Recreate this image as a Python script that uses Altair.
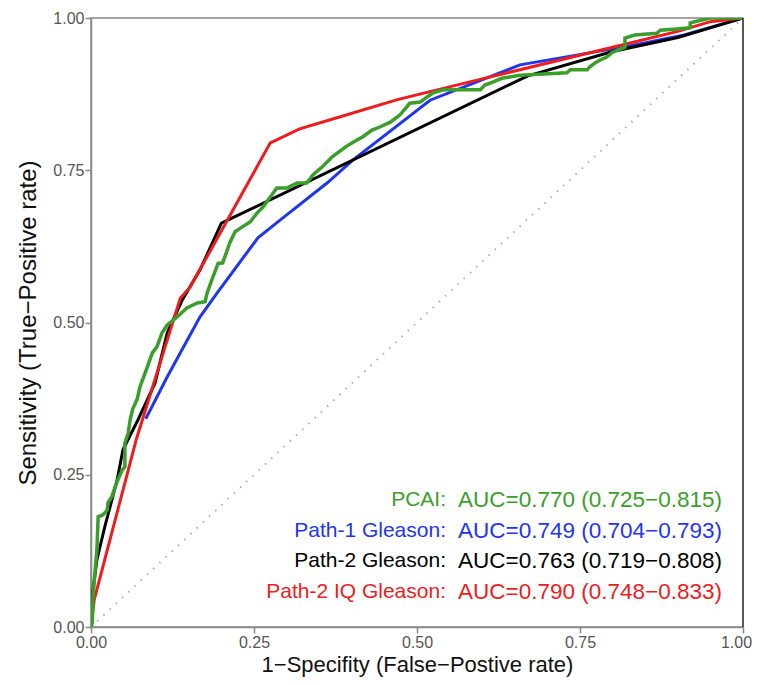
import altair as alt
import pandas as pd

# ---- data ----
pcai_x = [0, 0.002, 0.003, 0.006, 0.009, 0.011, 0.018, 0.025, 0.026, 0.032, 0.037, 0.041, 0.048, 0.052, 0.052,
          0.057, 0.060, 0.064, 0.071, 0.075, 0.083, 0.094, 0.101, 0.109, 0.117, 0.132, 0.147, 0.163, 0.175,
          0.178, 0.187, 0.195, 0.202, 0.213, 0.221, 0.232, 0.244, 0.255, 0.264, 0.275, 0.285, 0.301, 0.316,
          0.331, 0.340, 0.356, 0.370, 0.390, 0.402, 0.417, 0.431, 0.443, 0.459, 0.474, 0.489, 0.505, 0.515,
          0.525, 0.540, 0.597, 0.604, 0.617, 0.630, 0.658, 0.730, 0.735, 0.761, 0.765, 0.773, 0.781, 0.791,
          0.799, 0.807, 0.819, 0.819, 0.834, 0.868, 0.873, 0.899, 0.919, 0.919, 0.934, 0.950, 1.0]
pcai_y = [0, 0.007, 0.049, 0.089, 0.126, 0.181, 0.184, 0.192, 0.204, 0.214, 0.230, 0.241, 0.258, 0.263, 0.302,
          0.318, 0.340, 0.358, 0.375, 0.394, 0.417, 0.450, 0.460, 0.483, 0.496, 0.509, 0.524, 0.532, 0.534,
          0.548, 0.575, 0.597, 0.598, 0.631, 0.649, 0.657, 0.665, 0.680, 0.690, 0.706, 0.721, 0.721, 0.729,
          0.729, 0.742, 0.757, 0.772, 0.788, 0.796, 0.805, 0.816, 0.821, 0.829, 0.841, 0.860, 0.862, 0.870,
          0.877, 0.882, 0.882, 0.890, 0.895, 0.901, 0.906, 0.910, 0.915, 0.915, 0.920, 0.926, 0.931, 0.936,
          0.943, 0.947, 0.952, 0.967, 0.972, 0.975, 0.980, 0.982, 0.984, 0.992, 0.996, 1.0, 1.0]

path1_x = [0.084, 0.117, 0.167, 0.193, 0.256, 0.290, 0.362, 0.402, 0.520, 0.658, 0.820, 0.910, 1.0]
path1_y = [0.342, 0.411, 0.509, 0.548, 0.639, 0.668, 0.729, 0.767, 0.865, 0.923, 0.953, 0.972, 1.0]

path2_x = [0, 0.003, 0.009, 0.021, 0.040, 0.049, 0.072, 0.098, 0.117, 0.140, 0.167, 0.200, 0.670, 0.800, 0.900, 1.0]
path2_y = [0, 0.060, 0.110, 0.164, 0.241, 0.291, 0.340, 0.400, 0.483, 0.537, 0.586, 0.663, 0.905, 0.945, 0.968, 1.0]

iq_x = [0, 0.005, 0.070, 0.137, 0.152, 0.275, 0.320, 0.367, 0.470, 0.600, 0.800, 0.900, 0.950, 1.0]
iq_y = [0, 0.045, 0.310, 0.540, 0.558, 0.795, 0.818, 0.833, 0.866, 0.900, 0.952, 0.978, 0.994, 1.0]

diag_x = [0, 1]
diag_y = [0, 1]

legend_names = ["PCAI:", "Path-1 Gleason:", "Path-2 Gleason:", "Path-2 IQ Gleason:"]
legend_aucs = ["AUC=0.770 (0.725\u22120.815)", "AUC=0.749 (0.704\u22120.793)",
               "AUC=0.763 (0.719\u22120.808)", "AUC=0.790 (0.748\u22120.833)"]
legend_colors = ["#3a9e2a", "#1f35f0", "#000000", "#ee1c1c"]

tick_values = [0, 0.25, 0.5, 0.75, 1.0]

FONT = "Liberation Sans"
W, H = 652, 609


def curve(xs, ys, color, width, dash=None):
    df = pd.DataFrame({"x": xs, "y": ys, "i": list(range(len(xs)))})
    kw = dict(color=color, strokeWidth=width, clip=True)
    if dash:
        kw["strokeDash"] = dash
    return alt.Chart(df).mark_line(**kw).encode(
        x=alt.X("x:Q", scale=alt.Scale(domain=[0, 1], nice=False, zero=False),
                axis=alt.Axis(values=tick_values, format=".2f",
                              labelOffset={"condition": {"test": "datum.value == 1", "value": -7}, "value": 0},
                              title="1\u2212Specifity (False\u2212Postive rate)")),
        y=alt.Y("y:Q", scale=alt.Scale(domain=[0, 1], nice=False, zero=False),
                axis=alt.Axis(values=tick_values, format=".2f", titleFontSize=24,
                              title="Sensitivity (True\u2212Positive rate)")),
        order="i:Q",
    )


diag = curve(diag_x, diag_y, "#b0b0b0", 2, [1.5, 7])
blue = curve(path1_x, path1_y, legend_colors[1], 3)
black = curve(path2_x, path2_y, legend_colors[2], 3)
red = curve(iq_x, iq_y, legend_colors[3], 3)
green = curve(pcai_x, pcai_y, legend_colors[0], 3.5)

leg = pd.DataFrame({"name": legend_names, "auc": legend_aucs, "col": legend_colors,
                    "k": list(range(len(legend_names)))})
leg_base = alt.Chart(leg).transform_calculate(py="482 + datum.k * 30.7")
leg_names = leg_base.mark_text(align="right", baseline="middle", fontSize=21, font=FONT).encode(
    x=alt.value(355), y=alt.Y("py:Q", scale=None), text="name:N",
    color=alt.Color("col:N", scale=None))
leg_vals = leg_base.mark_text(align="left", baseline="middle", fontSize=22.5, font=FONT).encode(
    x=alt.value(367), y=alt.Y("py:Q", scale=None), text="auc:N",
    color=alt.Color("col:N", scale=None))

right_border = alt.Chart(pd.DataFrame({"a": [0]})).mark_rule(color="#222222", strokeWidth=1.2).encode(
    x=alt.value(W), y=alt.value(0), y2=alt.value(H))

chart = alt.layer(diag, blue, black, red, green, leg_names, leg_vals, right_border).properties(
    width=W, height=H,
    autosize=alt.AutoSizeParams(type="none"),
    padding={"left": 83, "top": 10, "right": 13, "bottom": 50},
).configure_view(
    stroke="#888888", strokeWidth=1.5
).configure_axis(
    grid=False,
    domainColor="#888888", domainWidth=1.5,
    tickColor="#888888", tickWidth=1.5, tickSize=6,
    labelColor="#555555", labelFont=FONT, labelFontSize=16, labelPadding=1,
    titleColor="#111111", titleFont=FONT, titleFontSize=22, titleFontWeight="normal",
).configure_axisX(titlePadding=4, labelFlush=False).configure_axisY(titlePadding=12, labelFlush=False)

chart.save("out.html", embed_options={"renderer": "svg", "actions": False})
